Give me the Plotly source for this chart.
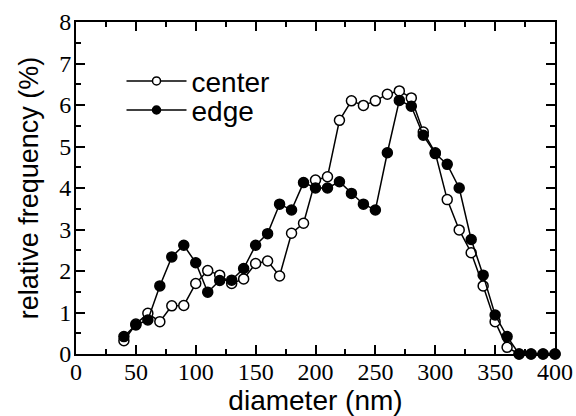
import plotly.graph_objects as go

diameter = [40, 50, 60, 70, 80, 90, 100, 110, 120, 130, 140, 150, 160, 170, 180, 190,
            200, 210, 220, 230, 240, 250, 260, 270, 280, 290, 300, 310, 320, 330, 340,
            350, 360, 370, 380, 390, 400]
center = [0.32, 0.72, 0.98, 0.78, 1.16, 1.17, 1.70, 2.01, 1.90, 1.70, 1.81, 2.18, 2.24,
          1.88, 2.91, 3.15, 4.19, 4.27, 5.63, 6.10, 5.99, 6.10, 6.26, 6.34, 6.17, 5.35,
          4.85, 3.72, 2.99, 2.44, 1.64, 0.78, 0.16, 0, 0, 0, 0]
edge = [0.42, 0.70, 0.82, 1.64, 2.34, 2.62, 2.20, 1.49, 1.77, 1.78, 2.06, 2.62, 2.90,
        3.61, 3.47, 4.13, 4.00, 4.00, 4.15, 3.87, 3.61, 3.47, 4.85, 6.11, 5.97, 5.27,
        4.83, 4.57, 4.00, 2.76, 1.90, 0.94, 0.42, 0, 0, 0, 0]

x_ticks = [0, 50, 100, 150, 200, 250, 300, 350, 400]
y_ticks = [0, 1, 2, 3, 4, 5, 6, 7, 8]

SANS = "Liberation Sans, Arial, sans-serif"
SERIF = "Liberation Serif, Times New Roman, serif"

fig = go.Figure()
fig.add_trace(go.Scatter(
    x=diameter, y=center, mode="lines+markers", name="center", showlegend=False,
    line=dict(color="black", width=1.5), cliponaxis=False,
    marker=dict(symbol="circle", size=10, color="white", line=dict(color="black", width=1.5)),
))
fig.add_trace(go.Scatter(
    x=diameter, y=edge, mode="lines+markers", name="edge", showlegend=False,
    line=dict(color="black", width=1.5), cliponaxis=False,
    marker=dict(symbol="circle", size=10, color="black", line=dict(color="black", width=1.5)),
))
# legend entries
fig.add_trace(go.Scatter(
    x=[None], y=[None], mode="lines+markers", name="center", legend="legend",
    line=dict(color="black", width=1.5),
    marker=dict(symbol="circle", size=8, color="white", line=dict(color="black", width=1.5)),
))
fig.add_trace(go.Scatter(
    x=[None], y=[None], mode="lines+markers", name="edge", legend="legend2",
    line=dict(color="black", width=1.5),
    marker=dict(symbol="circle", size=8, color="black", line=dict(color="black", width=1.5)),
))

axis_common = dict(
    showgrid=False, zeroline=False, showline=True, linecolor="black", linewidth=2,
    mirror="allticks", ticks="inside", tickcolor="black", tickwidth=1.5, ticklen=9,
    tickfont=dict(family=SERIF, size=24, color="black"), automargin=False,
)

fig.update_xaxes(
    range=[0, 400], tickvals=x_ticks, ticktext=[str(v) for v in x_ticks],
    minor=dict(dtick=25, tick0=0, ticks="inside", ticklen=5, tickwidth=1.5, tickcolor="black"),
    ticklabelstandoff=-5,
    title=dict(text="diameter (nm)", font=dict(family=SANS, size=28, color="black"), standoff=0),
    **axis_common,
)
fig.update_yaxes(
    range=[0, 8], tickvals=y_ticks, ticktext=[str(v) for v in y_ticks],
    minor=dict(dtick=0.5, tick0=0, ticks="inside", ticklen=5, tickwidth=1.5, tickcolor="black"),
    ticklabelstandoff=-2,
    title=dict(text="relative frequency (%)", font=dict(family=SANS, size=27, color="black"), standoff=13),
    **axis_common,
)

legend_common = dict(
    font=dict(family=SANS, size=28, color="black"), bgcolor="rgba(0,0,0,0)",
    borderwidth=0, itemwidth=60, xanchor="left", yanchor="middle",
    tracegroupgap=0,
)
fig.update_layout(
    width=576, height=416,
    margin=dict(l=76, r=21, t=22, b=62, autoexpand=False),
    paper_bgcolor="white", plot_bgcolor="white",
    legend=dict(x=0.095, y=0.8215, **legend_common),
    legend2=dict(x=0.095, y=0.734, **legend_common),
)

fig.write_html(
    "out.html",
    config={"displayModeBar": False},
    post_script="document.body.style.margin='0';document.body.style.overflow='hidden';",
)
